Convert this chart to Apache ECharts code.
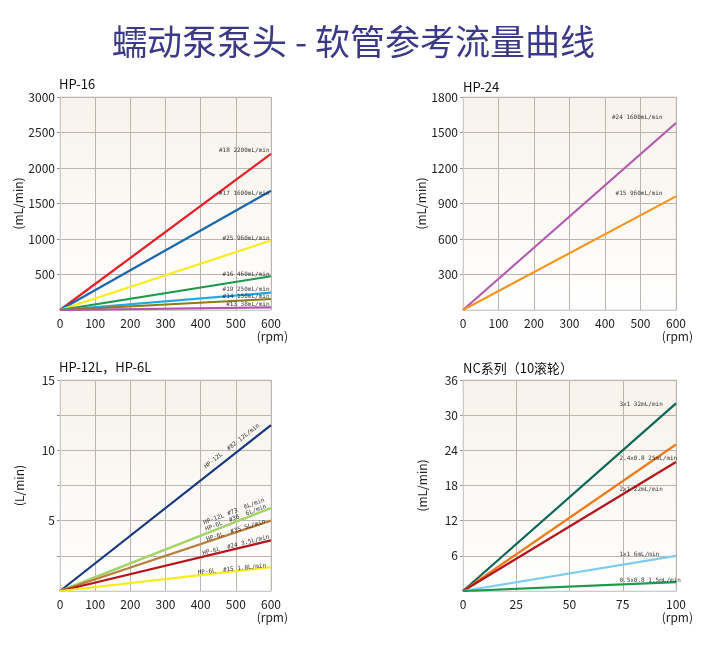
<!DOCTYPE html>
<html>
<head>
<meta charset="utf-8">
<script src="https://cdn.jsdelivr.net/npm/echarts@6/dist/echarts.min.js"></script>
<style>
  html, body { margin: 0; padding: 0; background: #fff; }
  #chart { width: 707px; height: 645px; }
</style>
</head>
<body>
<div id="chart"></div>
<script>
// 图表数据
const titleText = "蠕动泵泵头 - 软管参考流量曲线";

// HP-16
const hp16Speed = [0, 600];
const hp16Names = ["#18 2200mL/min", "#17 1600mL/min", "#25 960mL/min", "#16 460mL/min", "#19 250mL/min", "#14 150mL/min", "#13 38mL/min"];
const hp16Rated = [2200, 1600, 960, 460, 250, 150, 38];
const hp16End = [2200, 1680, 980, 475, 245, 155, 38];

// HP-24
const hp24Speed = [0, 600];
const hp24Names = ["#24 1600mL/min", "#15 960mL/min"];
const hp24Rated = [1600, 960];
const hp24End = [1580, 960];

// HP-12L, HP-6L
const hp12Speed = [0, 600];
const hp12Names = ["HP-12L  #82 12L/min", "HP-12L #73  6L/min", "HP-6L  #36  6L/min", "HP-6L  #35 5L/min", "HP-6L  #24 3.5L/min", "HP-6L  #15 1.8L/min"];
const hp12End = [11.8, 5.9, 5.9, 5.0, 3.6, 1.7];

// NC 系列
const ncSpeed = [0, 100];
const ncNames = ["3x1 32mL/min", "2.4x0.8 25mL/min", "2x1 22mL/min", "1x1 6mL/min", "0.5x0.8 1.5mL/min"];
const ncEnd = [32, 25, 22, 6, 1.5];

// 样式
const hp16Colors = ["#e8202a", "#1b67ae", "#fbec1c", "#1d9a4c", "#1fa9e6", "#8c7d14", "#b357ab"];
const hp24Colors = ["#b35aae", "#f7951e"];
const hp12Colors = ["#17387f", "#a5d46a", "#a5d46a", "#b9803f", "#b6161c", "#fbec1c"];
const ncColors = ["#0e6656", "#f27a1a", "#b3151c", "#80cbf0", "#1d9a4c"];

// label layout (text placement only)
const hp12Spots = [[489, 10.3, 38], [495, 5.65, 21], [500, 5.2, 21], [500, 4.3, 17], [500, 3.25, 14], [489, 1.55, 6]];
const ncSpots = [[73.2, 31.8], [73.2, 22.6], [73.2, 17.3], [73.2, 6.2], [73.2, 1.8]];

const grids = [
    { left: 60, top: 97, width: 211, height: 213 },
    { left: 463, top: 97, width: 213, height: 213 },
    { left: 60, top: 380, width: 211, height: 211 },
    { left: 463, top: 380, width: 213, height: 211 }
];

const baseFont = "'Noto Sans CJK SC', 'Noto Sans', sans-serif";
const smallFont = "'DejaVu Sans Mono', monospace";
const gridLineColor = "#bcb5ad";

const bg = new echarts.graphic.LinearGradient(0, 0, 0, 1, [
    { offset: 0, color: "#f7f2eb" },
    { offset: 1, color: "#ffffff" }
]);

function xAxisOf(idx, max, interval) {
    return {
        type: "value", gridIndex: idx, min: 0, max: max, interval: interval,
        axisLine: { show: true, lineStyle: { color: "#cccccc" } },
        axisTick: { show: false },
        splitLine: { show: true, lineStyle: { color: gridLineColor } },
        axisLabel: {
            color: "#222", fontSize: 12, fontFamily: baseFont, margin: 7, lineHeight: 13,
            formatter: function (v) { return v === max ? v + "\n (rpm)" : String(v); }
        }
    };
}

function yAxisOf(idx, max, interval, name, labelStep) {
    return {
        type: "value", gridIndex: idx, min: 0, max: max, interval: interval,
        name: name, nameLocation: "middle", nameGap: 35,
        nameTextStyle: { color: "#222", fontSize: 12, fontFamily: baseFont },
        axisLine: { show: true, lineStyle: { color: "#cccccc" } },
        axisTick: { show: true, length: 3, lineStyle: { color: "#999" } },
        splitLine: { show: true, lineStyle: { color: gridLineColor } },
        axisLabel: {
            color: "#222", fontSize: 12, fontFamily: baseFont, margin: 5, showMinLabel: false,
            formatter: function (v) {
                if (labelStep && Math.abs(v / labelStep - Math.round(v / labelStep)) > 1e-6) return "";
                return String(v);
            }
        }
    };
}

function lineSeries(idx, speed, ends, colors, width) {
    return ends.map(function (e, i) {
        return {
            type: "line", xAxisIndex: idx, yAxisIndex: idx,
            data: [[speed[0], 0], [speed[1], e]],
            showSymbol: false, symbol: "none", silent: true,
            lineStyle: { color: colors[i], width: width }
        };
    });
}

function labelSeries(idx, items) {
    return {
        type: "scatter", xAxisIndex: idx, yAxisIndex: idx,
        symbol: "circle", symbolSize: 1, itemStyle: { color: "rgba(0,0,0,0)" }, silent: true, z: 5,
        data: items
    };
}

const smallText = { show: true, color: "#000", fontSize: 6, fontFamily: smallFont };

const series = []
    .concat(lineSeries(0, hp16Speed, hp16End, hp16Colors, 2.2))
    .concat(lineSeries(1, hp24Speed, hp24End, hp24Colors, 2.2))
    .concat(lineSeries(2, hp12Speed, hp12End, hp12Colors, 2.2))
    .concat(lineSeries(3, ncSpeed, ncEnd, ncColors, 2.2));

series.push(labelSeries(0, hp16Names.map(function (n, i) {
    return { value: [hp16Speed[1], hp16Rated[i]], label: Object.assign({}, smallText, { formatter: n, position: "left", distance: 1, offset: [0, -3] }) };
})));
series.push(labelSeries(1, hp24Names.map(function (n, i) {
    return { value: [hp24Speed[1], hp24Rated[i]], label: Object.assign({}, smallText, { formatter: n, position: "left", distance: 13, offset: [0, -3] }) };
})));
series.push(labelSeries(2, hp12Names.map(function (n, i) {
    const s = hp12Spots[i];
    return { value: [s[0], s[1]], label: Object.assign({}, smallText, { formatter: n, position: "inside", align: "center", verticalAlign: "middle", rotate: s[2] }) };
})));
series.push(labelSeries(3, ncNames.map(function (n, i) {
    const s = ncSpots[i];
    return { value: [s[0], s[1]], label: Object.assign({}, smallText, { formatter: n, position: "right", distance: 0 }) };
})));

const option = {
    backgroundColor: "#ffffff",
    animation: false,
    title: [
        { text: titleText, left: "center", top: 19, textStyle: { color: "#3c3a88", fontSize: 35, fontWeight: "normal", fontFamily: baseFont } },
        { text: "HP-16", left: 54, top: 73, textStyle: { color: "#111", fontSize: 13, fontWeight: "normal", fontFamily: baseFont } },
        { text: "HP-24", left: 458, top: 76, textStyle: { color: "#111", fontSize: 13, fontWeight: "normal", fontFamily: baseFont } },
        { text: "HP-12L，HP-6L", left: 54, top: 356, textStyle: { color: "#111", fontSize: 13, fontWeight: "normal", fontFamily: baseFont } },
        { text: "NC系列（10滚轮）", left: 458, top: 357, textStyle: { color: "#111", fontSize: 13, fontWeight: "normal", fontFamily: baseFont } }
    ],
    grid: grids.map(function (g) {
        return Object.assign({ show: true, backgroundColor: bg, borderColor: "#dddddd", borderWidth: 1 }, g);
    }),
    xAxis: [
        xAxisOf(0, 600, 100),
        xAxisOf(1, 600, 100),
        xAxisOf(2, 600, 100),
        xAxisOf(3, 100, 25)
    ],
    yAxis: [
        yAxisOf(0, 3000, 500, "(mL/min)"),
        yAxisOf(1, 1800, 300, "(mL/min)"),
        yAxisOf(2, 15, 2.5, "(L/min)", 5),
        yAxisOf(3, 36, 6, "(mL/min)")
    ],
    series: series
};

const myChart = echarts.init(document.getElementById("chart"));
myChart.setOption(option);
</script>
</body>
</html>
